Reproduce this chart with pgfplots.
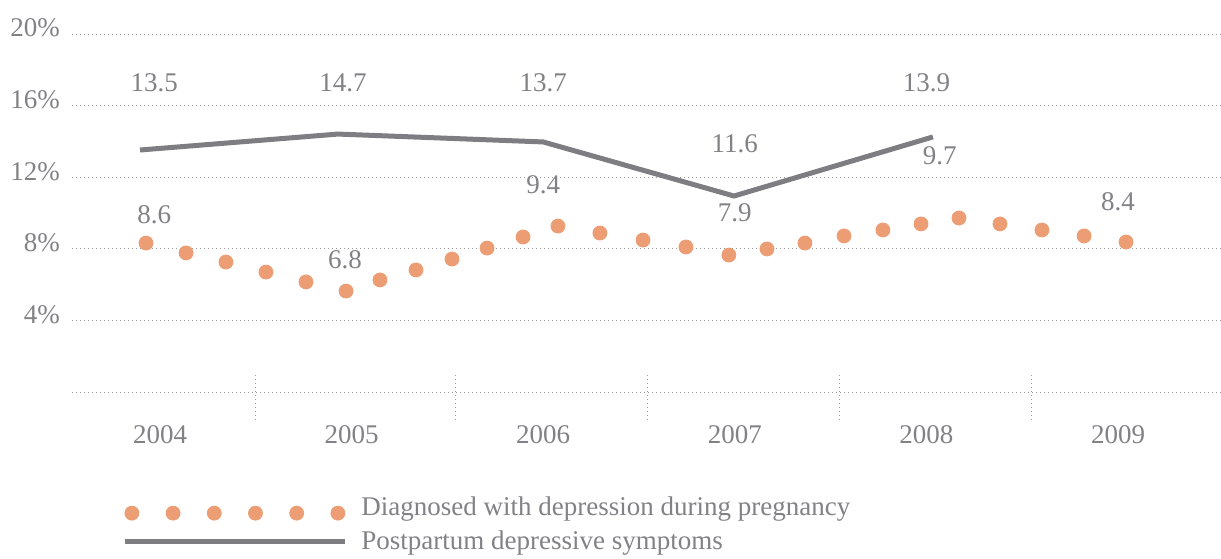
\documentclass[border=0pt]{standalone}
\usepackage{fontspec}
\setmainfont{Liberation Serif}
\usepackage{pgfplots}
\pgfplotsset{compat=1.18}
\definecolor{txtgray}{RGB}{130,130,134}
\definecolor{linegray}{RGB}{125,125,130}
\definecolor{dotorange}{RGB}{236,157,116}
\definecolor{gridgray}{RGB}{155,155,155}

\begin{document}
\begin{tikzpicture}[font=\fontsize{13.5}{16}\selectfont]
\begin{axis}[
    name=ax,
    scale only axis,
    width=574.5pt, height=179pt,
    xmin=-0.4593, xmax=5.5376,
    ymin=0, ymax=20,
    clip=false,
    axis line style={draw=none},
    major tick length=0pt,
    xtick={0,...,5},
    xticklabels={2004,2005,2006,2007,2008,2009},
    ytick={0,4,...,20},
    yticklabels={,4\%,8\%,12\%,16\%,20\%},
    ymajorgrids,
    major grid style={draw=gridgray, line width=0.5pt, dash pattern=on 0.5pt off 1.5pt},
    tick label style={text=txtgray},
    xticklabel style={yshift=-13pt},
    yticklabel style={xshift=-2.5pt, yshift=3pt},
    /pgf/number format/assume math mode=true,
    legend cell align=left,
    legend style={draw=none, fill=none, inner sep=0pt, text=txtgray,
        at={(0.0435,-0.279)}, anchor=north west, row sep=2.5pt, column sep=5pt},
]
% diagnosed with depression during pregnancy
\addplot[only marks, mark=*, mark size=3.5pt, color=dotorange,
    legend image code/.code={\foreach \k in {0,...,5}{\fill[dotorange] (\k*20.6pt+3.5pt,-3pt) circle (3.5pt);}}]
coordinates {
(-0.073,8.32) (0.136,7.77) (0.344,7.26) (0.553,6.70) (0.762,6.15) (0.971,5.64)
(1.148,6.26) (1.336,6.82) (1.524,7.43) (1.707,8.04) (1.895,8.66) (2.077,9.27)
(2.296,8.88) (2.521,8.49) (2.745,8.10) (2.969,7.65) (3.168,7.99) (3.366,8.32)
(3.570,8.72) (3.773,9.05) (3.972,9.39) (4.170,9.72) (4.384,9.39) (4.603,9.05)
(4.823,8.72) (5.042,8.38)
};
\addlegendentry{Diagnosed with depression during pregnancy}
% postpartum depressive symptoms
\addplot[color=linegray, line width=2.5pt, no marks,
    legend image code/.code={\draw[linegray, line width=2.5pt] (0pt,0pt) -- (110pt,0pt);}]
coordinates {(-0.104,13.52) (0.929,14.41) (2.0,13.97) (2.996,10.95) (4.034,14.25)};
\addlegendentry{Postpartum depressive symptoms}

\pgfplotsinvokeforeach{0.496,1.540,2.542,3.544,4.546}{
  \draw[gridgray, line width=0.5pt, dash pattern=on 0.5pt off 1.5pt] (axis cs:#1,0.95) -- (axis cs:#1,-1.68);
}
\begin{scope}[text=txtgray]
\node at (axis cs:-0.03,17.26) {13.5};
\node at (axis cs:0.955,17.26) {14.7};
\node at (axis cs:2.0,17.26) {13.7};
\node at (axis cs:4.0,17.26) {13.9};
\node at (axis cs:3.0,13.85) {11.6};
\node at (axis cs:-0.03,9.89) {8.6};
\node at (axis cs:0.966,7.37) {6.8};
\node at (axis cs:2.0,11.56) {9.4};
\node at (axis cs:3.0,10.0) {7.9};
\node at (axis cs:4.07,13.18) {9.7};
\node at (axis cs:5.0,10.61) {8.4};
\end{scope}
\end{axis}
\pgfresetboundingbox
\path[use as bounding box] ([shift={(-36pt,-83pt)}]ax.south west) rectangle ++(610.5pt,279pt);
\end{tikzpicture}
\end{document}
